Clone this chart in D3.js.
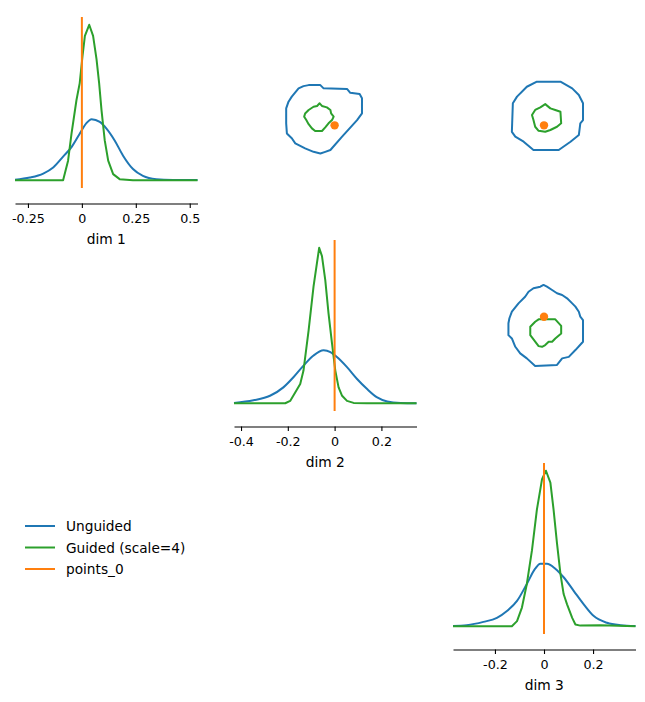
<!DOCTYPE html>
<html>
<head>
<meta charset="utf-8">
<script src="https://cdn.jsdelivr.net/npm/d3@7"></script>
<style>
  body { margin: 0; background: #fff; }
  svg { font-family: "DejaVu Sans", sans-serif; }
</style>
</head>
<body>
<svg id="chart" width="645" height="702"></svg>
<script>
// axis labels, limits and ticks per dimension
const dimLabels = ["dim 1", "dim 2", "dim 3"];
const dimLimits = [[-0.31, 0.536], [-0.43, 0.35], [-0.371, 0.373]];
const dimTicks = [[-0.25, 0, 0.25, 0.5], [-0.4, -0.2, 0, 0.2], [-0.2, 0, 0.2]];
const points0 = [0, 0, 0];

const seriesNames = ["Unguided", "Guided (scale=4)", "points_0"];

// 1d marginals (x positions and density)
const unguidedX1 = [-0.31, -0.241, -0.179, -0.133, -0.087, -0.048, -0.010, 0.022, 0.045, 0.083, 0.114, 0.152, 0.191, 0.237, 0.283, 0.345, 0.422, 0.536];
const unguidedD1 = [0.03, 0.17, 0.43, 0.82, 1.52, 2.13, 2.99, 3.69, 3.93, 3.75, 3.32, 2.56, 1.58, 0.72, 0.28, 0.07, 0.02, 0.01];
const guidedX1 = [-0.31, -0.163, -0.087, -0.064, -0.048, -0.025, -0.010, 0.003, 0.014, 0.034, 0.052, 0.068, 0.080, 0.091, 0.106, 0.122, 0.145, 0.175, 0.237, 0.536];
const guidedD1 = [0, 0, 0, 1.26, 2.99, 5.16, 6.25, 7.99, 9.29, 10.0, 9.29, 7.77, 6.25, 4.51, 2.56, 1.26, 0.39, 0.07, 0, 0];

const unguidedX2 = [-0.43, -0.347, -0.276, -0.219, -0.176, -0.133, -0.090, -0.047, -0.018, 0.010, 0.053, 0.096, 0.139, 0.182, 0.225, 0.282, 0.35];
const unguidedD2 = [0.02, 0.19, 0.48, 1.02, 1.67, 2.42, 3.07, 3.40, 3.29, 2.97, 2.32, 1.56, 0.91, 0.37, 0.11, 0.02, 0];
const guidedX2 = [-0.43, -0.211, -0.190, -0.147, -0.133, -0.111, -0.090, -0.066, -0.054, -0.040, -0.026, -0.011, 0.003, 0.017, 0.032, 0.053, 0.081, 0.139, 0.35];
const guidedD2 = [0, 0, 0.15, 1.23, 2.10, 4.70, 7.51, 10.0, 9.46, 7.94, 5.78, 3.83, 2.10, 1.02, 0.48, 0.15, 0.02, 0, 0];

const unguidedX3 = [-0.371, -0.315, -0.247, -0.192, -0.151, -0.110, -0.070, -0.036, -0.015, 0.012, 0.046, 0.080, 0.121, 0.162, 0.203, 0.257, 0.312, 0.373];
const unguidedD3 = [0.02, 0.07, 0.28, 0.54, 0.98, 1.63, 2.72, 3.70, 4.02, 4.02, 3.70, 3.15, 2.28, 1.41, 0.65, 0.22, 0.07, 0.02];
const guidedX3 = [-0.371, -0.131, -0.110, -0.090, -0.070, -0.049, -0.029, -0.008, 0.008, 0.026, 0.039, 0.053, 0.067, 0.080, 0.094, 0.115, 0.128, 0.148, 0.230, 0.373];
const guidedD3 = [0, 0, 0.33, 1.20, 2.72, 4.89, 7.50, 9.46, 10.0, 9.24, 7.50, 5.33, 3.37, 2.07, 1.41, 0.54, 0.11, 0.04, 0.07, 0];

// 2d contours, [x, y] in data units (x = column dim, y = row dim)
const unguided12 = [[-0.154,0.183],[-0.133,0.194],[-0.111,0.199],[-0.061,0.199],[-0.047,0.183],[0.053,0.180],[0.067,0.161],[0.107,0.155],[0.117,0.134],[0.117,0.059],[0.096,0.026],[0.032,-0.056],[-0.018,-0.122],[-0.040,-0.131],[-0.061,-0.139],[-0.090,-0.131],[-0.126,-0.114],[-0.168,-0.089],[-0.183,-0.064],[-0.204,-0.040],[-0.207,0.010],[-0.207,0.084],[-0.197,0.117],[-0.183,0.142]];
const guided12 = [[-0.126,0.059],[-0.111,0.076],[-0.090,0.092],[-0.075,0.096],[-0.064,0.109],[-0.054,0.096],[-0.033,0.089],[-0.018,0.076],[-0.015,0.059],[-0.004,0.043],[-0.011,0.026],[-0.026,0.010],[-0.040,-0.010],[-0.054,-0.028],[-0.083,-0.028],[-0.097,-0.015],[-0.111,0.006],[-0.121,0.026],[-0.130,0.043]];
const unguided13 = [[-0.127,0.109],[-0.131,-0.032],[-0.117,-0.056],[-0.083,-0.081],[-0.043,-0.122],[0.060,-0.122],[0.108,-0.081],[0.142,-0.048],[0.148,0.010],[0.159,0.026],[0.159,0.109],[0.142,0.150],[0.115,0.183],[0.067,0.216],[-0.029,0.216],[-0.070,0.191],[-0.110,0.142]];
const guided13 = [[-0.049,0.051],[-0.036,0.076],[-0.015,0.089],[0.005,0.105],[0.026,0.084],[0.046,0.076],[0.067,0.067],[0.070,0.010],[0.053,-0.007],[0.026,-0.023],[0.005,-0.032],[-0.022,-0.027],[-0.036,-0.007],[-0.043,0.026]];
const unguided23 = [[-0.131,0.023],[-0.104,0.061],[-0.077,0.091],[-0.063,0.114],[-0.043,0.130],[-0.015,0.137],[-0.002,0.145],[0.012,0.137],[0.033,0.122],[0.053,0.107],[0.074,0.099],[0.094,0.084],[0.115,0.061],[0.128,0.046],[0.142,0.023],[0.148,0.000],[0.159,-0.015],[0.159,-0.114],[0.128,-0.152],[0.101,-0.183],[0.074,-0.190],[0.053,-0.220],[-0.036,-0.225],[-0.070,-0.190],[-0.097,-0.167],[-0.117,-0.137],[-0.131,-0.099],[-0.145,-0.084],[-0.145,-0.030],[-0.141,-0.007]];
const guided23 = [[-0.056,-0.046],[-0.036,-0.023],[-0.022,-0.012],[0.046,-0.012],[0.070,-0.042],[0.070,-0.076],[0.046,-0.099],[0.033,-0.114],[0.019,-0.114],[0.005,-0.129],[-0.008,-0.137],[-0.022,-0.134],[-0.056,-0.084]];

const colors = { unguided: "#1f77b4", guided: "#2ca02c", point: "#ff7f0e" };

const marginals = [
    { ux: unguidedX1, ud: unguidedD1, gx: guidedX1, gd: guidedD1 },
    { ux: unguidedX2, ud: unguidedD2, gx: guidedX2, gd: guidedD2 },
    { ux: unguidedX3, ud: unguidedD3, gx: guidedX3, gd: guidedD3 }
];
const contours = {
    "0-1": [unguided12, guided12],
    "0-2": [unguided13, guided13],
    "1-2": [unguided23, guided23]
};

const svg = d3.select("#chart");

// grid of panels
const colX = [15, 234, 453];
const rowY = [17, 240, 463];
const panelW = 182.5;
const panelH = 171;
const spineOffset = 15.5;

const xScales = dimLimits.map((lim, i) =>
    d3.scaleLinear().domain(lim).range([colX[i], colX[i] + panelW]));
const yScales = dimLimits.map((lim, i) =>
    d3.scaleLinear().domain(lim).range([rowY[i] + panelH, rowY[i]]));

// diagonal: 1d marginals
marginals.forEach((m, i) => {
    const x = xScales[i];
    const ymax = d3.max([...m.ud, ...m.gd]);
    const y = d3.scaleLinear()
        .domain([-0.05 * ymax, 1.05 * ymax])
        .range([rowY[i] + panelH, rowY[i]]);
    const g = svg.append("g").attr("class", "diag");

    const line = d3.line().x(d => x(d[0])).y(d => y(d[1]));

    g.append("path")
        .datum(d3.zip(m.ux, m.ud))
        .attr("fill", "none")
        .attr("stroke", colors.unguided)
        .attr("stroke-width", 2)
        .attr("d", line.curve(d3.curveMonotoneX));

    g.append("path")
        .datum(d3.zip(m.gx, m.gd))
        .attr("fill", "none")
        .attr("stroke", colors.guided)
        .attr("stroke-width", 2)
        .attr("stroke-linejoin", "round")
        .attr("d", line.curve(d3.curveLinear));

    g.append("line")
        .attr("x1", x(points0[i])).attr("x2", x(points0[i]))
        .attr("y1", rowY[i]).attr("y2", rowY[i] + panelH)
        .attr("stroke", colors.point)
        .attr("stroke-width", 2);

    // bottom axis, offset from the plot
    const axisG = g.append("g")
        .attr("transform", `translate(0,${rowY[i] + panelH + spineOffset})`)
        .call(d3.axisBottom(x).tickValues(dimTicks[i]).tickFormat(d => String(d))
            .tickSizeInner(4.5).tickSizeOuter(0).tickPadding(6));
    axisG.select(".domain").attr("stroke-width", 1.1);
    axisG.selectAll(".tick line").attr("stroke-width", 1.1);
    axisG.selectAll(".tick text")
        .attr("font-size", "12.7px")
        .attr("fill", "#000")
        .attr("font-family", "DejaVu Sans, sans-serif");

    g.append("text")
        .attr("x", (colX[i] + colX[i] + panelW) / 2)
        .attr("y", rowY[i] + panelH + spineOffset + 40)
        .attr("text-anchor", "middle")
        .attr("font-size", "13.8px")
        .attr("fill", "#000")
        .text(dimLabels[i]);
});

// upper triangle: contours and the observed point
Object.entries(contours).forEach(([key, polys]) => {
    const [r, c] = key.split("-").map(Number);
    const x = xScales[c];
    const y = yScales[r];
    const g = svg.append("g").attr("class", "offdiag");
    const line = d3.line().x(d => x(d[0])).y(d => y(d[1])).curve(d3.curveLinearClosed);

    g.selectAll("path")
        .data(polys)
        .enter().append("path")
        .attr("d", line)
        .attr("fill", "none")
        .attr("stroke", (d, i) => i === 0 ? colors.unguided : colors.guided)
        .attr("stroke-width", 2)
        .attr("stroke-linejoin", "round");

    g.append("circle")
        .attr("cx", x(points0[c]))
        .attr("cy", y(points0[r]))
        .attr("r", 4.2)
        .attr("fill", colors.point);
});

// legend
const legendColors = [colors.unguided, colors.guided, colors.point];
const legend = svg.append("g").attr("class", "legend");
const legendY = d3.scalePoint().domain(seriesNames).range([526, 569]);
seriesNames.forEach((name, i) => {
    legend.append("line")
        .attr("x1", 25).attr("x2", 55)
        .attr("y1", legendY(name)).attr("y2", legendY(name))
        .attr("stroke", legendColors[i])
        .attr("stroke-width", 2);
    legend.append("text")
        .attr("x", 66)
        .attr("y", legendY(name) + 5)
        .attr("font-size", "13.7px")
        .attr("fill", "#000")
        .text(name);
});
</script>
</body>
</html>
